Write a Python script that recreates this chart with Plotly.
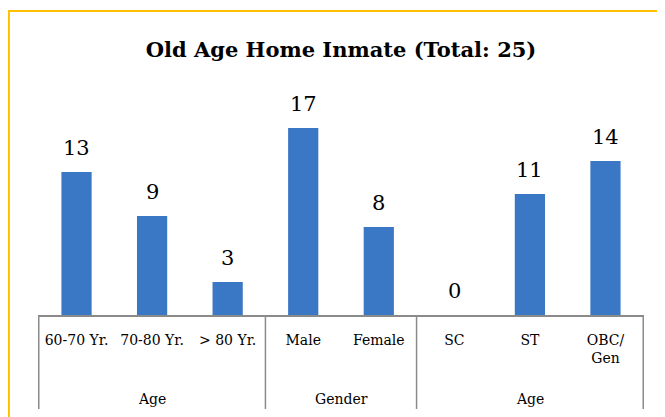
import plotly.graph_objects as go

# Chart data
categories = ["60-70 Yr.", "70-80 Yr.", "> 80 Yr.", "Male", "Female", "SC", "ST", "OBC/<br>Gen"]
counts = [13, 9, 3, 17, 8, 0, 11, 14]
groups = ["Age", "Gender", "Age"]
group_spans = [(0, 2), (3, 4), (5, 7)]

FONT = "DejaVu Serif"
BAR_BLUE = "#3a77c4"
BORDER_GOLD = "#FFC000"
AXIS_GREY = "#8a8a8a"

fig = go.Figure(
    go.Bar(
        x=categories,
        y=counts,
        width=0.4,
        marker=dict(color=BAR_BLUE, line=dict(width=0)),
        cliponaxis=False,
    )
)

# value labels sit well above each bar, like the Excel original
annotations = []
for cat, val in zip(categories, counts):
    annotations.append(dict(x=cat, y=val, xref="x", yref="y", text=str(val),
                            yanchor="middle", yshift=24, showarrow=False,
                            font=dict(family=FONT, size=21, color="black")))

for name, (a, b) in zip(groups, group_spans):
    annotations.append(dict(x=(a + b) / 2, y=-0.382, xref="x", yref="paper", text=name,
                            yanchor="middle", showarrow=False,
                            font=dict(family=FONT, size=14, color="black")))

# Excel-style category table: dividers running down through both label rows
shapes = []
for xb in [-0.5, 2.5, 4.5, 7.5]:
    shapes.append(dict(type="line", xref="x", yref="paper", x0=xb, x1=xb, y0=0, y1=-0.427,
                       line=dict(color=AXIS_GREY, width=1.5)))
# gold frame of the chart object (left and top edges visible)
shapes.append(dict(type="path", xref="paper", yref="paper",
                   path="M -0.048 -0.6 L -0.048 1.382 L 1.1 1.382",
                   line=dict(color=BORDER_GOLD, width=2)))

# page body keeps its default 8px margin, so the layout is pulled up/left by 8px
fig.update_layout(
    width=665,
    height=417,
    margin=dict(l=30, r=29, t=87, b=110),
    paper_bgcolor="white",
    plot_bgcolor="white",
    showlegend=False,
    title=dict(text="<b>Old Age Home Inmate (Total: 25)</b>", x=0.5, xref="paper",
               y=1 - 42 / 417, yref="container", yanchor="middle",
               font=dict(family=FONT, size=21, color="black")),
    xaxis=dict(showline=True, linecolor=AXIS_GREY, linewidth=1.5, ticks="",
               tickfont=dict(family=FONT, size=14, color="black"), tickangle=0,
               ticklabelstandoff=11, showgrid=False),
    yaxis=dict(range=[0, 20], visible=False, showgrid=False),
    shapes=shapes,
    annotations=annotations,
)

fig.write_html("out.html")
